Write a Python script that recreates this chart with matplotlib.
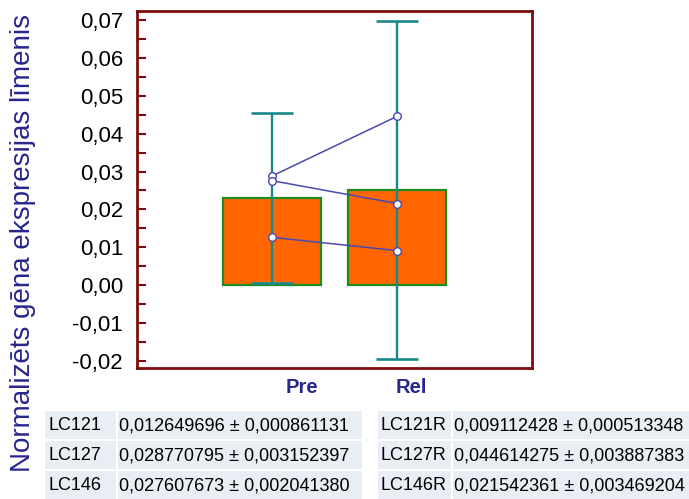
import matplotlib
matplotlib.use("Agg")
import matplotlib.pyplot as plt
from matplotlib.patches import Rectangle
from matplotlib.ticker import MultipleLocator, FuncFormatter

plt.rcParams['font.family'] = ['Liberation Sans', 'DejaVu Sans']

# Data
groups = ['Pre', 'Rel']
bar_means = [0.0230, 0.0251]
bar_errs = [0.0224, 0.0447]

samples = ['LC121', 'LC127', 'LC146']
pre_vals = [0.012649696, 0.028770795, 0.027607673]
rel_vals = [0.009112428, 0.044614275, 0.021542361]

left_rows = [
    ['LC121', '0,012649696 ± 0,000861131'],
    ['LC127', '0,028770795 ± 0,003152397'],
    ['LC146', '0,027607673 ± 0,002041380'],
]
right_rows = [
    ['LC121R', '0,009112428 ± 0,000513348'],
    ['LC127R', '0,044614275 ± 0,003887383'],
    ['LC146R', '0,021542361 ± 0,003469204'],
]

# Colours
frame_col = '#7d0c0c'
bar_col = '#ff6600'
bar_edge = '#1f8a1f'
err_col = '#18898a'
line_col = '#4a4aac'
label_col = '#27278c'
cell_col = '#e9edf4'

W, H = 689, 499
fig = plt.figure(figsize=(W / 100, H / 100), dpi=100)

# axes box in pixels: x 137..532, y 11..368
ax = fig.add_axes([137 / W, 1 - 368 / H, (532 - 137) / W, (368 - 11) / H])

x = list(range(len(groups)))
ax.bar(x, bar_means, width=0.78, color=bar_col, edgecolor=bar_edge,
       linewidth=1.6, zorder=1)
ax.errorbar(x, bar_means, yerr=bar_errs, fmt='none', ecolor=err_col,
            elinewidth=1.7, capsize=15, capthick=1.9, zorder=2)

for p, r in zip(pre_vals, rel_vals):
    ax.plot(x, [p, r], color=line_col, linewidth=1.1, zorder=3,
            marker='o', markersize=5.5, markerfacecolor='white',
            markeredgecolor=line_col, markeredgewidth=1.0)

ax.set_xlim(-1.07, 2.07)
ax.set_ylim(-0.02185, 0.07237)

ax.yaxis.set_major_locator(MultipleLocator(0.01))
ax.yaxis.set_minor_locator(MultipleLocator(0.005))
ax.yaxis.set_major_formatter(FuncFormatter(lambda v, pos: f'{v:.2f}'.replace('.', ',').replace('-0,00', '0,00')))
ax.tick_params(axis='y', which='both', direction='in', length=6.5, width=1.5,
               color=frame_col, left=True, right=False, labelsize=16, pad=10)
ax.tick_params(axis='x', which='both', length=0, bottom=False, labelbottom=False)

# group labels sit a little right of the bar centres
label_offsets = [0.24, 0.11]
for xi, g, off in zip(x, groups, label_offsets):
    ax.text(xi + off, -0.0245, g, ha='center', va='top',
            fontsize=14.5, fontweight='bold', color=label_col)

for s in ax.spines.values():
    s.set_color(frame_col)
    s.set_linewidth(2.0)

fig.text(23 / W, 1 - 243 / H, 'Normalizēts gēna ekspresijas līmenis', rotation=90,
         ha='center', va='center', fontsize=20, color=label_col)

# tables below the chart
row_tops = [411, 441, 471]
row_h = 28


def draw_table(rows, x0, xsep, x1):
    for top, (name, val) in zip(row_tops, rows):
        for cx0, cx1 in [(x0, xsep - 1), (xsep + 1, x1)]:
            fig.patches.append(Rectangle((cx0 / W, 1 - (top + row_h) / H),
                                         (cx1 - cx0) / W, row_h / H,
                                         transform=fig.transFigure,
                                         facecolor=cell_col, edgecolor='none'))
        yc = 1 - (top + row_h / 2 + 1) / H
        fig.text((x0 + 3) / W, yc, name, ha='left', va='center', fontsize=13.0, color='black')
        fig.text((xsep + 2) / W, yc, val, ha='left', va='center', fontsize=13.0, color='black')


draw_table(left_rows, 45, 117, 362)
draw_table(right_rows, 378, 452, 689)

fig.savefig('out.png', dpi=100)
